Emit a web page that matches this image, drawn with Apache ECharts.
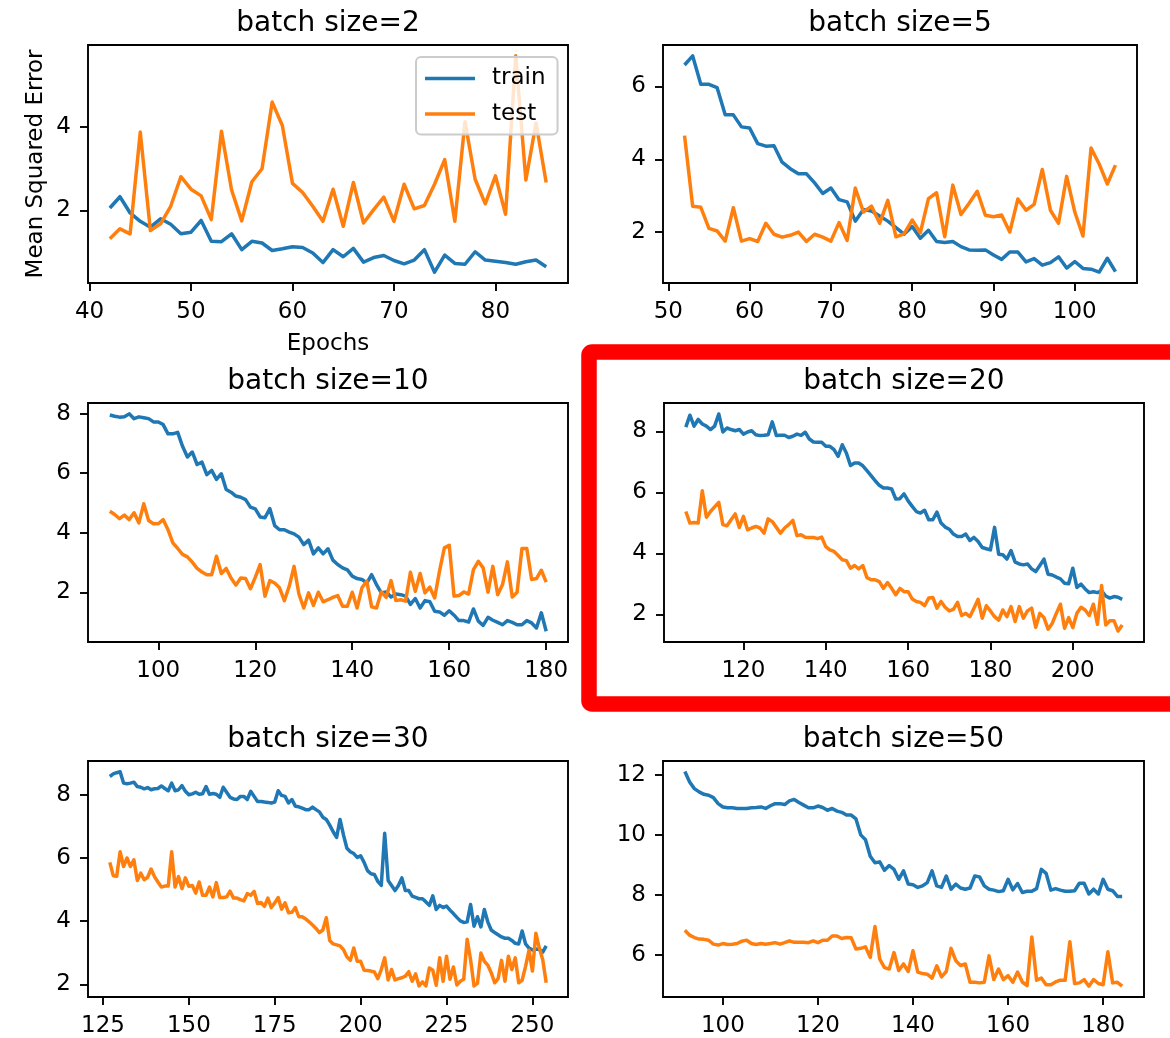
<!DOCTYPE html>
<html>
<head>
<meta charset="utf-8">
<script src="https://cdn.jsdelivr.net/npm/echarts@6/dist/echarts.min.js"></script>
<style>html,body{margin:0;padding:0;background:#fff}#c{width:1170px;height:1038px}</style>
</head>
<body>
<div id="c"></div>
<script>
// ---------- data ----------
const panelTitles = ['batch size=2', 'batch size=5', 'batch size=10', 'batch size=20', 'batch size=30', 'batch size=50'];
const epochFirst = [42, 52, 90, 106, 127, 92];

const train_bs2 = [2.06,2.33,1.94,1.74,1.6,1.8,1.67,1.44,1.48,1.76,1.26,1.25,1.44,1.06,1.26,1.22,1.04,1.08,1.13,1.11,0.98,0.75,1.06,0.89,1.09,0.76,0.87,0.92,0.8,0.72,0.81,1.06,0.52,0.93,0.73,0.71,1.01,0.81,0.78,0.75,0.71,0.77,0.81,0.65];
const test_bs2 = [1.32,1.56,1.44,3.88,1.52,1.68,2.1,2.81,2.51,2.35,1.78,3.9,2.49,1.75,2.69,3.0,4.6,4.04,2.65,2.43,2.1,1.74,2.51,1.62,2.67,1.7,2.02,2.32,1.74,2.63,2.04,2.12,2.63,3.22,1.74,4.13,2.75,2.16,2.83,1.91,5.71,2.73,4.1,2.67];

const train_bs5 = [6.59,6.84,6.06,6.06,5.97,5.22,5.22,4.89,4.86,4.43,4.36,4.37,3.92,3.74,3.6,3.6,3.35,3.06,3.21,2.89,2.83,2.3,2.62,2.58,2.44,2.3,2.12,1.94,2.15,1.83,2.05,1.74,1.71,1.74,1.6,1.51,1.5,1.51,1.37,1.25,1.45,1.45,1.18,1.27,1.09,1.16,1.32,1.01,1.19,1.0,0.98,0.9,1.28,0.91];
const test_bs5 = [4.65,2.71,2.68,2.1,2.03,1.75,2.67,1.75,1.82,1.74,2.24,1.94,1.86,1.91,2.0,1.74,1.94,1.86,1.75,2.26,1.77,3.21,2.55,2.71,2.24,2.87,1.87,1.95,2.33,1.98,2.92,3.08,1.87,3.29,2.48,2.79,3.12,2.46,2.42,2.47,2.0,2.91,2.6,2.76,3.72,2.6,2.24,3.53,2.55,1.89,4.31,3.87,3.32,3.84];

const train_bs10 = [7.95,7.91,7.88,7.89,7.99,7.83,7.89,7.86,7.83,7.72,
  7.72,7.63,7.32,7.32,7.37,6.9,6.54,6.71,6.29,6.37,
  5.95,6.09,5.79,5.98,5.45,5.36,5.23,5.19,5.11,4.86,
  4.8,4.53,4.5,4.81,4.24,4.1,4.1,4.02,3.96,3.85,
  3.6,3.75,3.29,3.49,3.29,3.46,3.08,2.93,2.82,2.75,
  2.54,2.46,2.43,2.31,2.59,2.26,1.98,2.01,1.84,1.94,
  1.92,1.87,1.59,1.79,1.47,1.72,1.68,1.36,1.34,1.23,
  1.38,1.23,1.05,1.05,1.0,1.44,1.03,0.89,1.16,1.06,
  0.99,0.91,1.05,0.99,0.91,0.91,1.05,0.97,0.8,1.31,
  0.69];
const test_bs10 = [4.72,4.61,4.47,4.59,4.44,4.67,4.33,4.97,4.41,4.3,
  4.3,4.44,4.1,3.66,3.47,3.27,3.19,3.01,2.8,2.68,
  2.59,2.59,3.21,2.63,2.8,2.48,2.24,2.48,2.46,2.12,
  2.5,2.93,1.87,2.39,2.31,2.15,1.72,2.2,2.87,1.94,
  1.47,1.98,1.56,2.0,1.68,1.75,1.83,1.89,1.53,1.53,
  2.0,1.47,2.15,2.37,1.51,1.47,2.01,1.83,2.39,1.72,
  1.75,1.7,2.67,2.03,2.63,1.98,2.17,1.81,2.71,3.49,
  3.58,1.87,1.89,2.01,1.94,2.76,3.04,2.82,2.0,2.87,
  1.92,2.26,3.02,1.84,2.0,3.47,3.47,2.43,2.46,2.74,
  2.34];

const train_bs20 = [8.14,8.53,8.17,8.39,8.24,8.17,8.06,8.17,8.57,7.98,
  8.11,8.06,8.02,8.06,7.91,7.98,8.02,7.89,7.86,7.87,
  7.89,8.31,7.86,7.87,7.87,7.8,7.84,7.91,7.87,7.97,
  7.75,7.65,7.64,7.64,7.51,7.51,7.4,7.18,7.56,7.29,
  6.88,6.96,6.96,6.87,6.71,6.55,6.38,6.23,6.14,6.14,
  6.11,5.78,5.79,5.95,5.72,5.54,5.37,5.32,5.41,5.1,
  5.1,5.35,4.99,4.86,4.79,4.63,4.55,4.55,4.63,4.42,
  4.52,4.39,4.19,4.15,4.11,4.85,3.97,3.95,3.81,4.09,
  3.71,3.65,3.62,3.65,3.49,3.4,3.6,3.81,3.31,3.29,
  3.22,3.16,3.02,3.0,3.51,2.88,2.99,2.83,2.71,2.74,
  2.71,2.77,2.6,2.53,2.58,2.56,2.49];
const test_bs20 = [5.37,4.99,5.01,4.99,6.05,5.18,5.37,5.52,5.67,4.94,
  4.9,5.1,5.29,4.85,5.21,4.77,4.83,4.88,4.83,4.66,
  5.13,5.04,4.85,4.66,4.83,4.94,5.08,4.58,4.61,4.53,
  4.52,4.52,4.48,4.53,4.22,4.11,4.06,3.93,3.79,3.76,
  3.51,3.6,3.49,3.6,3.2,3.13,3.13,3.07,2.85,3.04,
  2.85,2.64,2.85,2.74,2.74,2.5,2.42,2.39,2.28,2.53,
  2.55,2.2,2.42,2.23,2.11,2.16,2.39,1.96,2.03,1.92,
  2.2,2.49,1.87,2.28,2.11,1.92,1.81,2.14,1.92,2.25,
  1.76,2.25,1.87,2.11,2.2,1.57,2.03,1.89,1.51,1.7,
  2.03,2.33,1.54,1.89,1.56,2.03,2.23,2.14,1.96,2.33,
  1.67,2.94,1.65,1.79,1.79,1.45,1.65];

const train_bs30 = [8.58,8.66,8.7,8.73,8.37,8.35,8.37,8.4,8.26,8.24,
  8.19,8.23,8.16,8.19,8.2,8.28,8.2,8.13,8.37,8.13,
  8.16,8.29,8.11,8.0,8.03,8.08,8.02,8.03,8.26,8.02,
  8.04,8.02,7.92,8.24,8.08,7.92,7.87,7.85,7.95,7.95,
  7.85,8.11,7.95,7.79,7.79,7.77,7.76,7.74,7.77,8.13,
  7.98,7.95,7.74,7.85,7.64,7.62,7.58,7.53,7.53,7.61,
  7.53,7.46,7.29,7.22,7.04,6.83,6.65,7.22,6.73,6.31,
  6.2,6.14,6.02,6.07,5.86,5.6,5.5,5.48,5.26,5.13,
  6.78,5.29,5.13,4.97,5.13,5.37,4.97,4.97,4.79,4.75,
  4.71,4.71,4.61,4.5,4.8,4.37,4.5,4.43,4.48,4.35,
  4.24,4.12,4.01,3.96,3.98,4.53,3.84,4.14,3.82,4.37,
  3.98,3.72,3.64,3.57,3.5,3.46,3.46,3.39,3.3,3.28,
  3.69,3.28,3.15,3.09,3.12,3.1,3.02,3.22];
const test_bs30 = [5.86,5.44,5.42,6.2,5.73,6.0,5.73,5.94,5.29,5.52,
  5.31,5.39,5.65,5.41,5.24,5.08,5.11,5.11,6.2,5.08,
  5.41,5.03,5.37,5.1,5.13,4.89,5.24,4.82,4.82,5.08,
  4.77,5.22,4.75,4.75,4.77,4.95,4.73,4.73,4.68,4.64,
  4.87,4.82,4.94,4.56,4.59,4.47,4.73,4.43,4.58,4.75,
  4.38,4.58,4.27,4.28,4.43,4.14,4.14,4.07,3.98,3.88,
  3.77,3.64,3.72,4.11,3.39,3.28,3.25,3.22,3.1,2.87,
  2.76,3.15,2.73,2.73,2.45,2.44,2.42,2.39,2.18,2.47,
  2.84,2.14,2.47,2.14,2.18,2.21,2.26,2.4,2.1,2.33,
  1.95,2.08,1.95,2.52,2.45,1.97,2.84,2.1,2.89,2.16,
  2.55,1.98,2.1,2.16,3.43,2.78,1.95,2.03,2.99,2.73,
  2.61,2.37,2.05,2.18,2.76,2.1,2.89,2.47,2.84,2.05,
  2.13,2.57,3.08,2.42,3.62,3.15,2.78,2.05];

const train_bs50 = [12.11,11.76,11.54,11.43,11.35,11.32,11.24,11.04,10.93,10.9,
  10.9,10.88,10.88,10.88,10.9,10.91,10.93,10.88,10.97,11.04,
  11.04,11.01,11.13,11.18,11.08,10.99,10.9,10.9,10.96,10.91,
  10.82,10.88,10.79,10.75,10.66,10.66,10.53,10.0,9.84,9.29,
  9.07,9.1,8.82,8.98,8.85,8.52,8.8,8.36,8.34,8.25,
  8.3,8.41,8.8,8.3,8.25,8.63,8.19,8.36,8.23,8.19,
  8.23,8.63,8.6,8.3,8.19,8.16,8.11,8.14,8.52,8.17,
  8.38,8.08,8.12,8.12,8.21,8.85,8.72,8.16,8.21,8.16,
  8.12,8.12,8.14,8.39,8.39,8.03,8.19,8.03,8.52,8.19,
  8.14,7.95,7.95];
const test_bs50 = [6.82,6.66,6.58,6.53,6.52,6.49,6.36,6.33,6.38,6.35,
  6.36,6.38,6.46,6.49,6.38,6.35,6.38,6.36,6.38,6.41,
  6.36,6.41,6.47,6.42,6.42,6.42,6.41,6.47,6.41,6.49,
  6.49,6.63,6.63,6.55,6.58,6.57,6.2,6.22,6.27,5.92,
  6.95,5.86,5.58,5.53,6.08,5.48,5.7,5.45,6.14,5.43,
  5.38,5.36,5.23,5.64,5.27,5.45,6.22,5.81,5.65,5.7,
  5.09,5.09,5.07,5.09,5.97,5.18,5.53,5.18,5.31,5.09,
  5.43,5.1,4.98,6.6,5.16,5.23,5.01,5.01,5.1,5.16,
  5.16,6.44,5.05,5.07,5.18,4.96,5.18,5.05,5.01,6.11,
  5.07,5.09,4.96];

const xTickLabels = [[40,50,60,70,80],[50,60,70,80,90,100],[100,120,140,160,180],[120,140,160,180,200],[125,150,175,200,225,250],[100,120,140,160,180]];
const yTickLabels = [[2,4],[2,4,6],[2,4,6,8],[2,4,6,8],[2,4,6,8],[6,8,10,12]];

const trainSets = [train_bs2, train_bs5, train_bs10, train_bs20, train_bs30, train_bs50];
const testSets = [test_bs2, test_bs5, test_bs10, test_bs20, test_bs30, test_bs50];

// ---------- layout ----------
const grids = [
  {left: 88, top: 45, width: 480, height: 238},
  {left: 663, top: 45, width: 474, height: 238},
  {left: 88, top: 403, width: 480, height: 239},
  {left: 664, top: 403, width: 480, height: 239},
  {left: 88, top: 761, width: 480, height: 239},
  {left: 663, top: 761, width: 481, height: 239}
];
const xRange = [[39.85, 87.15], [49.35, 107.65], [85.5, 184.5], [100.7, 217.3], [120.65, 260.35], [87.4, 188.6]];
const yRange = [[0.26, 5.97], [0.6, 7.14], [0.33, 8.355], [1.09, 8.93], [1.6, 9.07], [4.6, 12.46]];

const FONT = 'DejaVu Sans';
const BLUE = '#1f77b4', ORANGE = '#ff7f0e';

const xAxes = [], yAxes = [], series = [], graphics = [];
grids.forEach((g, i) => {
  xAxes.push({
    type: 'value', gridIndex: i, min: xRange[i][0], max: xRange[i][1],
    axisLine: {show: false},
    splitLine: {show: false},
    axisTick: {show: true, length: 8, lineStyle: {color: '#000', width: 1.9}, customValues: xTickLabels[i]},
    axisLabel: {customValues: xTickLabels[i], fontSize: 23, fontFamily: FONT, color: '#000', margin: 18}
  });
  yAxes.push({
    type: 'value', gridIndex: i, min: yRange[i][0], max: yRange[i][1],
    axisLine: {show: false},
    splitLine: {show: false},
    axisTick: {show: true, length: 8, lineStyle: {color: '#000', width: 1.9}, customValues: yTickLabels[i]},
    axisLabel: {customValues: yTickLabels[i], fontSize: 23, fontFamily: FONT, color: '#000', margin: 17, padding: [3, 0, 0, 0]}
  });
  const ep0 = epochFirst[i];
  series.push({
    name: 'train', type: 'line', xAxisIndex: i, yAxisIndex: i,
    data: trainSets[i].map((v, k) => [ep0 + k, v]),
    symbol: 'none', showSymbol: false, color: BLUE,
    lineStyle: {width: 3.5, color: BLUE, join: 'round'}
  });
  series.push({
    name: 'test', type: 'line', xAxisIndex: i, yAxisIndex: i,
    data: testSets[i].map((v, k) => [ep0 + k, v]),
    symbol: 'none', showSymbol: false, color: ORANGE,
    lineStyle: {width: 3.5, color: ORANGE, join: 'round'}
  });
  graphics.push({
    type: 'text', x: g.left + g.width / 2, y: g.top - 21, z: 50,
    style: {text: panelTitles[i], fontSize: 28, fontFamily: FONT, fill: '#000',
      align: 'center', textAlign: 'center', verticalAlign: 'middle', textVerticalAlign: 'middle'}
  });
});

graphics.push({
  type: 'text', x: 328, y: 344, z: 50,
  style: {text: 'Epochs', fontSize: 23, fontFamily: FONT, fill: '#000',
    align: 'center', textAlign: 'center', verticalAlign: 'middle', textVerticalAlign: 'middle'}
});
graphics.push({
  type: 'text', x: 36, y: 164, rotation: Math.PI / 2, z: 50,
  style: {text: 'Mean Squared Error', fontSize: 23, fontFamily: FONT, fill: '#000',
    align: 'center', textAlign: 'center', verticalAlign: 'middle', textVerticalAlign: 'middle'}
});
graphics.push({
  type: 'rect', z: 100,
  shape: {x: 589, y: 352, width: 700, height: 352, r: 3},
  style: {fill: 'none', stroke: '#ff0000', lineWidth: 15.5, lineJoin: 'round'}
});

const chart = echarts.init(document.getElementById('c'), null, {renderer: 'canvas'});
chart.setOption({
  animation: false,
  backgroundColor: '#fff',
  grid: grids.map(g => Object.assign({show: true, borderColor: '#000', borderWidth: 1.9, backgroundColor: 'transparent', containLabel: false}, g)),
  xAxis: xAxes,
  yAxis: yAxes,
  legend: {
    data: ['train', 'test'], orient: 'vertical', left: 416, top: 57,
    padding: [10, 12, 9, 9], itemGap: 12.5, itemWidth: 50, itemHeight: 3.5, icon: 'rect',
    backgroundColor: 'rgba(255,255,255,0.8)', borderColor: '#cccccc', borderWidth: 2, borderRadius: 5,
    selectedMode: false,
    textStyle: {fontSize: 23, fontFamily: FONT, color: '#000', padding: [0, 0, 0, 12]}
  },
  graphic: graphics,
  series: series
});
</script>
</body>
</html>
